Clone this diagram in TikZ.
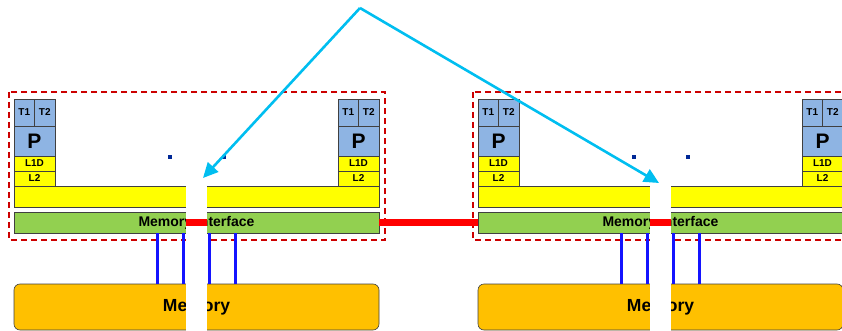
\documentclass[tikz,border=0pt]{standalone}
\usepackage{fontspec}
\setmainfont{Liberation Sans}
\usetikzlibrary{arrows.meta}

\definecolor{thrblue}{RGB}{142,180,227}
\definecolor{cacheyel}{RGB}{255,255,0}
\definecolor{ifgreen}{RGB}{146,208,80}
\definecolor{memorange}{RGB}{255,192,0}
\definecolor{chipred}{RGB}{204,0,0}
\definecolor{busblue}{RGB}{20,20,255}
\definecolor{hopcyan}{RGB}{0,190,240}
\definecolor{dotblue}{RGB}{0,40,150}

\tikzset{
  blk/.style={draw=black!75, line width=0.6pt, inner sep=0pt, outer sep=0pt},
  thr/.style={blk, fill=thrblue, minimum width=20.5, minimum height=27,
    font=\bfseries\fontsize{10}{10}\selectfont},
  core/.style={blk, fill=thrblue, minimum width=41, minimum height=30,
    font=\bfseries\fontsize{21}{21}\selectfont},
  cache/.style={blk, fill=cacheyel, minimum width=41, minimum height=15,
    font=\bfseries\fontsize{10}{10}\selectfont},
  memif/.style={blk, fill=ifgreen, minimum width=365, minimum height=21,
    font=\bfseries\fontsize{14}{14}\selectfont},
  mem/.style={blk, fill=memorange, rounded corners=6pt, minimum width=365,
    minimum height=46, font=\bfseries\fontsize{17.5}{18}\selectfont},
  chip/.style={draw=chipred, line width=1.3pt, dash pattern=on 6pt off 4pt},
  dot/.style={fill=dotblue, inner sep=0pt, minimum size=4.5},
  gapcut/.style={fill=white, inner sep=0pt, minimum width=21, minimum height=146},
  bus/.style={draw=busblue, line width=3pt},
  link/.style={draw=red, line width=7pt},
  hop/.style={draw=hopcyan, line width=2.6pt, -{Triangle[length=15pt,width=14pt]}}
}

\begin{document}
\begin{tikzpicture}[x=1pt, y=-1pt]
\useasboundingbox (0,0) rectangle (842,331);

% two chips, the second one shifted right
\foreach \m/\ox in {L/0,R/464}{
\begin{scope}[xshift=\ox]
  \draw[chip] (9,92) rectangle (385,240);
  % processor stacks at both ends
  \foreach \s/\sx in {a/34.5,b/358.5}{
    \node[thr] (t1\m\s) at (\sx-10.25,112.5) {T1};
    \node[thr] (t2\m\s) at (\sx+10.25,112.5) {T2};
    \node[core] (p\m\s) at (\sx,141) {P};
    \node[cache] (l1\m\s) at (\sx,163.5) {L1D};
    \node[cache] (l2\m\s) at (\sx,178.5) {L2};
  }
  \node[cache, minimum width=365, minimum height=21] (l3\m) at (196.5,196.5) {};
  \node[memif] (memif\m) at (196.5,222.5) {Memory Interface};
  \node[mem] (mem\m) at (196.5,307) {Memory};
  \node[dot] (dota\m) at (170,157) {};
  \node[dot] (dotb\m) at (224,157) {};
  \foreach \d in {-39,-13,13,39}
    \draw[bus] ([xshift=\d]memif\m.south) -- ([xshift=\d]mem\m.north);
  % break in the chip
  \node[gapcut] (gap\m) at (196.5,258) {};
  \draw[link] (gap\m.west |- memif\m.center) -- (gap\m.east |- memif\m.center);
\end{scope}
}

\draw[link] (memifL.east) -- (memifR.west);

\coordinate (hub) at (360,8);
\coordinate (hitL) at (203,178);
\coordinate (hitR) at (659,183);
\draw[hop] (hub) -- (hitL);
\draw[hop] (hub) -- (hitR);
\end{tikzpicture}
\end{document}
